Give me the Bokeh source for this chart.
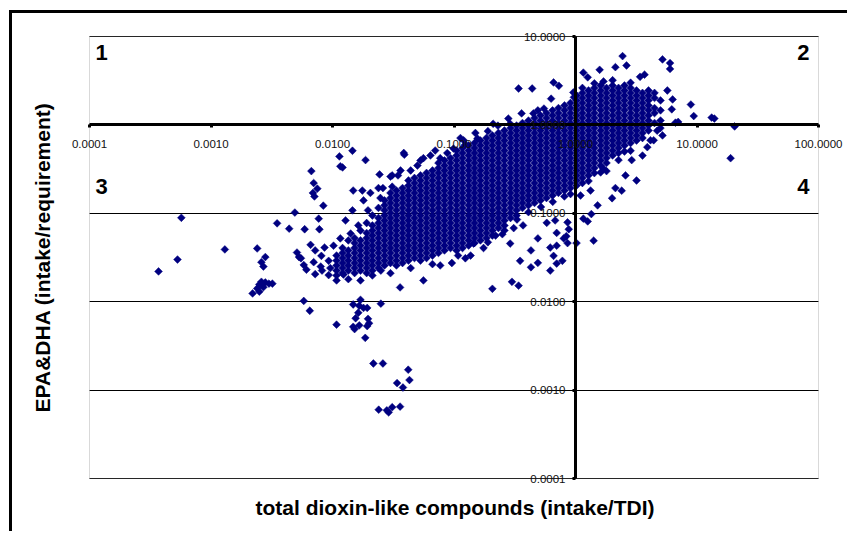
import numpy as np
from bokeh.plotting import figure
from bokeh.core.properties import value
from bokeh.models import (FixedTicker, LogAxis, Label, LabelSet, BoxAnnotation,
                          ColumnDataSource, Range1d)
from bokeh.embed import file_html
from bokeh.resources import INLINE

# ---------------- axis ticks / labels ----------------
x_ticks = [0.0001, 0.001, 0.01, 0.1, 1, 10, 100]
x_tick_labels = ["0.0001", "0.0010", "0.0100", "0.1000", "1.0000", "10.0000", "100.0000"]
y_ticks = [0.0001, 0.001, 0.01, 0.1, 1, 10]
y_tick_labels = ["0.0001", "0.0010", "0.0100", "0.1000", "1.0000", "10.0000"]
axes_cross = 1.0
x_title = "total dioxin-like compounds (intake/TDI)"
y_title = "EPA&DHA (intake/requirement)"
quadrant_labels = ["1", "2", "3", "4"]

# ---------------- data: dense cloud, read column by column ----------------
core_dioxin = [0.0108, 0.0121, 0.0135, 0.0152, 0.0170, 0.0191, 0.0213, 0.0239, 0.0268, 0.0300,
               0.0336, 0.0377, 0.0422, 0.0473, 0.0530, 0.0594, 0.0665, 0.0745, 0.0835, 0.0936,
               0.105, 0.1175, 0.132, 0.1475, 0.165, 0.185, 0.207, 0.232, 0.260, 0.292,
               0.327, 0.366, 0.410, 0.460, 0.515, 0.577, 0.647, 0.724, 0.812, 0.909,
               1.02, 1.14, 1.28, 1.43, 1.61, 1.80, 2.02, 2.26, 2.53, 2.84,
               3.18, 3.56, 3.99, 4.47, 5.01]
core_epa = [
    [0.0333, 0.0292, 0.0257, 0.0225, 0.0198],
    [0.0405, 0.0356, 0.0312, 0.0274, 0.0241, 0.0211],
    [0.0493, 0.0380, 0.0333, 0.0292, 0.0257, 0.0225],
    [0.0525, 0.0461, 0.0405, 0.0356, 0.0312, 0.0274, 0.0241, 0.0211],
    [0.0639, 0.0493, 0.0432, 0.0380, 0.0333, 0.0292, 0.0257, 0.0225],
    [0.0777, 0.0598, 0.0525, 0.0461, 0.0405, 0.0356, 0.0312, 0.0274, 0.0241, 0.0211],
    [0.0944, 0.0728, 0.0639, 0.0561, 0.0493, 0.0432, 0.0380, 0.0333, 0.0292, 0.0257, 0.0225],
    [0.115, 0.0885, 0.0777, 0.0682, 0.0598, 0.0525, 0.0461, 0.0405, 0.0356, 0.0312, 0.0274, 0.0241],
    [0.140, 0.123, 0.108, 0.0944, 0.0829, 0.0728, 0.0639, 0.0561, 0.0493, 0.0432, 0.0380, 0.0333, 0.0292, 0.0257],
    [0.170, 0.149, 0.131, 0.115, 0.101, 0.0885, 0.0777, 0.0682, 0.0598, 0.0525, 0.0461, 0.0405, 0.0356, 0.0312, 0.0274],
    [0.181, 0.159, 0.140, 0.123, 0.108, 0.0944, 0.0829, 0.0728, 0.0639, 0.0561, 0.0493, 0.0432, 0.0380, 0.0333, 0.0292, 0.0257],
    [0.193, 0.170, 0.149, 0.131, 0.115, 0.101, 0.0885, 0.0777, 0.0682, 0.0598, 0.0525, 0.0461, 0.0405, 0.0356, 0.0312, 0.0274],
    [0.235, 0.206, 0.181, 0.159, 0.140, 0.123, 0.108, 0.0944, 0.0829, 0.0728, 0.0639, 0.0561, 0.0493, 0.0432, 0.0380, 0.0333, 0.0292],
    [0.251, 0.220, 0.193, 0.170, 0.149, 0.131, 0.115, 0.101, 0.0885, 0.0777, 0.0682, 0.0598, 0.0525, 0.0461, 0.0405, 0.0356, 0.0312],
    [0.268, 0.235, 0.206, 0.181, 0.159, 0.140, 0.123, 0.108, 0.0944, 0.0829, 0.0728, 0.0639, 0.0561, 0.0493, 0.0432, 0.0380, 0.0333, 0.0292],
    [0.286, 0.251, 0.220, 0.193, 0.170, 0.149, 0.131, 0.115, 0.101, 0.0885, 0.0777, 0.0682, 0.0598, 0.0525, 0.0461, 0.0405, 0.0356, 0.0312],
    [0.305, 0.268, 0.235, 0.206, 0.181, 0.159, 0.140, 0.123, 0.108, 0.0944, 0.0829, 0.0728, 0.0639, 0.0561, 0.0493, 0.0432, 0.0380, 0.0333],
    [0.371, 0.325, 0.286, 0.251, 0.220, 0.193, 0.170, 0.149, 0.131, 0.115, 0.101, 0.0885, 0.0777, 0.0682, 0.0598, 0.0525, 0.0461, 0.0405, 0.0356],
    [0.396, 0.347, 0.305, 0.268, 0.235, 0.206, 0.181, 0.159, 0.140, 0.123, 0.108, 0.0944, 0.0829, 0.0728, 0.0639, 0.0561, 0.0493, 0.0432, 0.0380],
    [0.422, 0.371, 0.325, 0.286, 0.251, 0.220, 0.193, 0.170, 0.149, 0.131, 0.115, 0.101, 0.0885, 0.0777, 0.0682, 0.0598, 0.0525, 0.0461, 0.0405],
    [0.513, 0.451, 0.396, 0.347, 0.305, 0.268, 0.235, 0.206, 0.181, 0.159, 0.140, 0.123, 0.108, 0.0944, 0.0829, 0.0728, 0.0639, 0.0561, 0.0493, 0.0432, 0.0380],
    [0.548, 0.481, 0.422, 0.371, 0.325, 0.286, 0.251, 0.220, 0.193, 0.170, 0.149, 0.131, 0.115, 0.101, 0.0885, 0.0777, 0.0682, 0.0598, 0.0525, 0.0461, 0.0405],
    [0.585, 0.513, 0.451, 0.396, 0.347, 0.305, 0.268, 0.235, 0.206, 0.181, 0.159, 0.140, 0.123, 0.108, 0.0944, 0.0829, 0.0728, 0.0639, 0.0561, 0.0493, 0.0432],
    [0.624, 0.548, 0.481, 0.422, 0.371, 0.325, 0.286, 0.251, 0.220, 0.193, 0.170, 0.149, 0.131, 0.115, 0.101, 0.0885, 0.0777, 0.0682, 0.0598, 0.0525, 0.0461],
    [0.666, 0.585, 0.513, 0.451, 0.396, 0.347, 0.305, 0.268, 0.235, 0.206, 0.181, 0.159, 0.140, 0.123, 0.108, 0.0944, 0.0829, 0.0728, 0.0639, 0.0561, 0.0493],
    [0.711, 0.624, 0.548, 0.481, 0.422, 0.371, 0.325, 0.286, 0.251, 0.220, 0.193, 0.170, 0.149, 0.131, 0.115, 0.101, 0.0885, 0.0777, 0.0682, 0.0598, 0.0525],
    [0.759, 0.666, 0.585, 0.513, 0.451, 0.396, 0.347, 0.305, 0.268, 0.235, 0.206, 0.181, 0.159, 0.140, 0.123, 0.108, 0.0944, 0.0829, 0.0728, 0.0639, 0.0561],
    [0.810, 0.711, 0.624, 0.548, 0.481, 0.422, 0.371, 0.325, 0.286, 0.251, 0.220, 0.193, 0.170, 0.149, 0.131, 0.115, 0.101, 0.0885, 0.0777, 0.0682],
    [0.864, 0.759, 0.666, 0.585, 0.513, 0.451, 0.396, 0.347, 0.305, 0.268, 0.235, 0.206, 0.181, 0.159, 0.140, 0.123, 0.108, 0.0944, 0.0829, 0.0728],
    [0.922, 0.810, 0.711, 0.624, 0.548, 0.481, 0.422, 0.371, 0.325, 0.286, 0.251, 0.220, 0.193, 0.170, 0.149, 0.131, 0.115, 0.101, 0.0885],
    [0.984, 0.864, 0.759, 0.666, 0.585, 0.513, 0.451, 0.396, 0.347, 0.305, 0.268, 0.235, 0.206, 0.181, 0.159, 0.140, 0.123, 0.108, 0.0944],
    [1.05, 0.922, 0.810, 0.711, 0.624, 0.548, 0.481, 0.422, 0.371, 0.325, 0.286, 0.251, 0.220, 0.193, 0.170, 0.149, 0.131, 0.115],
    [1.12, 0.984, 0.864, 0.759, 0.666, 0.585, 0.513, 0.451, 0.396, 0.347, 0.305, 0.268, 0.235, 0.206, 0.181, 0.159, 0.140, 0.123],
    [1.20, 1.05, 0.922, 0.810, 0.711, 0.624, 0.548, 0.481, 0.422, 0.371, 0.325, 0.286, 0.251, 0.220, 0.193, 0.170, 0.149, 0.131],
    [1.28, 1.12, 0.984, 0.864, 0.759, 0.666, 0.585, 0.513, 0.451, 0.396, 0.347, 0.305, 0.268, 0.235, 0.206, 0.181, 0.159, 0.140],
    [1.36, 1.20, 1.05, 0.922, 0.810, 0.711, 0.624, 0.548, 0.481, 0.422, 0.371, 0.325, 0.286, 0.251, 0.220, 0.193, 0.170, 0.149],
    [1.46, 1.28, 1.12, 0.984, 0.864, 0.759, 0.666, 0.585, 0.513, 0.451, 0.396, 0.347, 0.305, 0.268, 0.235, 0.206, 0.181, 0.159],
    [1.55, 1.36, 1.20, 1.05, 0.922, 0.810, 0.711, 0.624, 0.548, 0.481, 0.422, 0.371, 0.325, 0.286, 0.251, 0.220, 0.193, 0.170],
    [1.66, 1.46, 1.28, 1.12, 0.984, 0.864, 0.759, 0.666, 0.585, 0.513, 0.451, 0.396, 0.347, 0.305, 0.268, 0.235, 0.206, 0.181],
    [1.77, 1.55, 1.36, 1.20, 1.05, 0.922, 0.810, 0.711, 0.624, 0.548, 0.481, 0.422, 0.371, 0.325, 0.286, 0.251, 0.220, 0.193],
    [2.15, 1.89, 1.66, 1.46, 1.28, 1.12, 0.984, 0.864, 0.759, 0.666, 0.585, 0.513, 0.451, 0.396, 0.347, 0.305, 0.268, 0.235, 0.206],
    [2.30, 2.02, 1.77, 1.55, 1.36, 1.20, 1.05, 0.922, 0.810, 0.711, 0.624, 0.548, 0.481, 0.422, 0.371, 0.325, 0.286, 0.251, 0.220],
    [2.45, 2.15, 1.89, 1.66, 1.46, 1.28, 1.12, 0.984, 0.864, 0.759, 0.666, 0.585, 0.513, 0.451, 0.396, 0.347, 0.305, 0.268],
    [2.62, 2.30, 2.02, 1.77, 1.55, 1.36, 1.20, 1.05, 0.922, 0.810, 0.711, 0.624, 0.548, 0.481, 0.422, 0.371, 0.325],
    [2.79, 2.45, 2.15, 1.89, 1.66, 1.46, 1.28, 1.12, 0.984, 0.864, 0.759, 0.666, 0.585, 0.513, 0.451, 0.396, 0.347],
    [2.62, 2.30, 2.02, 1.77, 1.55, 1.36, 1.20, 1.05, 0.922, 0.810, 0.711, 0.624, 0.548, 0.481, 0.422, 0.371],
    [2.79, 2.45, 2.15, 1.89, 1.66, 1.46, 1.28, 1.12, 0.984, 0.864, 0.759, 0.666, 0.585, 0.513, 0.451],
    [2.62, 2.30, 2.02, 1.77, 1.55, 1.36, 1.20, 1.05, 0.922, 0.810, 0.711, 0.624, 0.548, 0.481],
    [2.79, 2.45, 2.15, 1.89, 1.66, 1.46, 1.28, 1.12, 0.984, 0.864, 0.759, 0.666, 0.585],
    [2.62, 2.30, 2.02, 1.77, 1.55, 1.36, 1.20, 1.05, 0.922, 0.810, 0.711, 0.624],
    [2.45, 2.15, 1.89, 1.66, 1.46, 1.28, 1.12, 0.984, 0.864, 0.759, 0.666],
    [2.30, 2.02, 1.77, 1.55, 1.36, 1.20, 1.05, 0.922, 0.810, 0.711],
    [2.15, 1.89, 1.66, 1.46, 1.28, 1.12, 0.984, 0.864],
    [2.02, 1.55, 1.36, 1.05],
    [1.89, 1.46, 1.12],
]

# ---------------- data: scattered individual points ----------------
scatter_dioxin = [
    0.00057, 0.00037, 0.00053, 0.0013, 0.0024, 0.0026, 0.0028, 0.0027, 0.0022, 0.0024,
    0.0025, 0.0026, 0.0027, 0.0028, 0.0030, 0.0032, 0.0025, 0.0035, 0.0044, 0.0049,
    0.0051, 0.0053, 0.0059, 0.0067, 0.0070, 0.0069, 0.0075, 0.0071, 0.0084, 0.0077,
    0.0078, 0.0066, 0.0055, 0.0058, 0.0061, 0.0070, 0.0072, 0.0086, 0.0081, 0.0072,
    0.0080, 0.0093, 0.0082, 0.0093, 0.0096, 0.0058, 0.0065, 0.0108, 0.0114, 0.0116,
    0.0146, 0.0187, 0.039, 0.0239, 0.0244, 0.031, 0.0346, 0.050, 0.056, 0.077,
    0.099, 0.12, 0.156, 0.21, 0.29, 0.36, 0.45, 0.55, 0.34, 0.44,
    0.66, 0.73, 0.63, 0.96, 0.97, 1.16, 1.26, 1.58, 1.70, 2.13,
    2.44, 2.63, 3.4, 3.7, 5.2, 6.0, 6.0, 6.3, 5.7, 6.2,
    6.65, 7.0, 8.9, 9.4, 13.2, 13.9, 20.4, 18.9, 5.2, 4.7,
    5.0, 4.4, 3.9, 3.56, 3.18, 2.58, 2.13, 2.4, 2.0, 1.70,
    2.9, 1.41, 1.02, 1.35, 1.16, 1.26, 0.88, 0.80, 0.78, 0.86,
    1.52, 1.33, 1.10, 0.145, 0.19, 0.22, 0.29, 0.35, 0.43, 0.49,
    0.62, 0.70, 0.86, 0.49, 0.62, 0.66, 0.70, 0.43, 0.84, 0.70,
    0.58, 0.68, 0.37, 0.31, 0.26, 0.25, 0.207, 0.30, 0.34, 0.017,
    0.025, 0.036, 0.056, 0.0123, 0.0148, 0.0170, 0.018, 0.0166, 0.0193, 0.0163,
    0.0155, 0.0196, 0.0166, 0.0148, 0.0152, 0.0193, 0.020, 0.0186, 0.025, 0.0217,
    0.026, 0.042, 0.043, 0.034, 0.038, 0.024, 0.029, 0.031, 0.036, 0.028,
    0.0121, 0.0386, 0.030, 0.0363, 0.031, 0.026, 0.0148, 0.0176, 0.0205, 0.018,
    0.0248, 0.0146, 0.0196, 0.0163, 0.0141, 0.0128, 0.0116, 0.0102, 0.0108, 0.0135,
    0.0213, 0.030, 0.044, 0.077, 0.096, 0.124, 0.0665, 0.108, 0.137, 0.175,
    0.064, 0.088, 0.124, 0.19, 0.49, 0.28, 0.23, 0.15, 0.113, 0.070,
    0.053, 0.044, 1.8, 2.26, 4.14, 2.84, 1.61, 1.14, 1.43, 2.02,
    2.84, 3.99, 4.47, 1.28, 1.43, 2.53, 0.52, 0.65, 0.41, 0.33,
    0.81, 0.91,
]
scatter_epa = [
    0.089, 0.022, 0.030, 0.039, 0.040, 0.028, 0.032, 0.025, 0.0124, 0.0141,
    0.0157, 0.0168, 0.0146, 0.0165, 0.0160, 0.0160, 0.0130, 0.077, 0.067, 0.102,
    0.036, 0.032, 0.066, 0.30, 0.22, 0.17, 0.19, 0.155, 0.122, 0.087,
    0.066, 0.044, 0.031, 0.026, 0.023, 0.028, 0.038, 0.041, 0.033, 0.0205,
    0.025, 0.029, 0.0225, 0.020, 0.024, 0.0102, 0.0079, 0.0055, 0.44, 0.34,
    0.51, 0.40, 0.46, 0.193, 0.275, 0.268, 0.268, 0.347, 0.42, 0.42,
    0.54, 0.67, 0.70, 1.03, 1.03, 1.35, 1.35, 1.53, 2.58, 2.58,
    3.02, 2.77, 1.98, 2.33, 2.05, 3.9, 3.45, 4.2, 3.1, 4.5,
    6.0, 4.7, 3.5, 3.7, 5.5, 5.0, 4.3, 1.94, 2.45, 1.5,
    1.06, 1.08, 1.70, 1.26, 1.21, 1.18, 0.96, 0.42, 0.76, 0.86,
    0.92, 0.67, 0.56, 0.45, 0.235, 0.268, 0.193, 0.18, 0.148, 0.32,
    0.40, 0.049, 0.046, 0.098, 0.087, 0.081, 0.066, 0.052, 0.029, 0.079,
    0.123, 0.181, 0.159, 0.0455, 0.047, 0.056, 0.0455, 0.029, 0.0245, 0.0275,
    0.0225, 0.027, 0.046, 0.052, 0.041, 0.033, 0.043, 0.038, 0.055, 0.060,
    0.078, 0.083, 0.073, 0.068, 0.064, 0.058, 0.0140, 0.0168, 0.0152, 0.0174,
    0.0225, 0.0145, 0.0174, 0.0203, 0.0093, 0.0105, 0.0085, 0.0090, 0.0085, 0.0075,
    0.0065, 0.0064, 0.0054, 0.0052, 0.0049, 0.0053, 0.0057, 0.0039, 0.0095, 0.0020,
    0.0020, 0.0017, 0.0013, 0.0012, 0.00107, 0.00060, 0.00056, 0.00064, 0.00065, 0.00059,
    0.33, 0.481, 0.26, 0.305, 0.20, 0.193, 0.181, 0.181, 0.170, 0.140,
    0.149, 0.108, 0.108, 0.073, 0.059, 0.083, 0.052, 0.043, 0.0174, 0.018,
    0.0198, 0.021, 0.024, 0.0257, 0.0274, 0.031, 0.0266, 0.0333, 0.0333, 0.0405,
    0.451, 0.48, 0.60, 0.85, 1.46, 1.18, 0.98, 0.81, 0.71, 0.513,
    0.396, 0.305, 0.30, 0.40, 0.67, 0.51, 0.29, 2.62, 2.95, 3.2,
    3.0, 2.45, 2.3, 0.232, 0.285, 0.50, 0.118, 0.135, 0.103, 0.085,
    0.155, 0.165,
]

# ---------------- build tables ----------------
xs, ys = [], []
for xv, col in zip(core_dioxin, core_epa):
    for yv in col:
        xs.append(xv)
        ys.append(yv)
xs += scatter_dioxin
ys += scatter_epa
src = ColumnDataSource(data=dict(x=xs, y=ys))

xlab_src = ColumnDataSource(data=dict(x=x_ticks, y=[axes_cross] * len(x_ticks), text=x_tick_labels))
ylab_src = ColumnDataSource(data=dict(x=[axes_cross] * len(y_ticks), y=y_ticks, text=y_tick_labels))

FONT = "Liberation Sans"

# layout (pixels): plot area 729 x 442, frame padded so end tick labels are not clipped
PX_DEC_X, PX_DEC_Y = 121.5, 88.4
PAD_L, PAD_R, PAD_T, PAD_B = 24, 26, 9, 9
x_rng = Range1d(x_ticks[0] / 10 ** (PAD_L / PX_DEC_X), x_ticks[-1] * 10 ** (PAD_R / PX_DEC_X))
y_rng = Range1d(y_ticks[0] / 10 ** (PAD_B / PX_DEC_Y), y_ticks[-1] * 10 ** (PAD_T / PX_DEC_Y))

p = figure(width=838, height=521, x_axis_type="log", y_axis_type="log",
           x_range=x_rng, y_range=y_rng,
           output_backend="svg", toolbar_location=None,
           min_border_left=53, min_border_right=6, min_border_top=14, min_border_bottom=47,
           background_fill_color="white", border_fill_color="white",
           styles={"margin-left": "12px", "margin-top": "13px", "vertical-align": "top",
                   "box-shadow": "-3px -3px 0px 0px black"})
p.outline_line_color = None

# plot-area border
p.add_layout(BoxAnnotation(left=x_ticks[0], right=x_ticks[-1], bottom=y_ticks[0], top=y_ticks[-1],
                           fill_color=None, line_color="#808080", line_width=1, level="underlay"))

# main axes crossing at (1, 1): line + tick marks
xa = p.below[0]
ya = p.left[0]
for ax, ticks in ((xa, x_ticks), (ya, y_ticks)):
    ax.fixed_location = axes_cross
    ax.bounds = (ticks[0], ticks[-1])
    ax.ticker = FixedTicker(ticks=ticks, minor_ticks=[])
    ax.axis_line_color = "black"
    ax.axis_line_width = 3
    ax.major_tick_line_color = "black"
    ax.major_tick_line_width = 3
    ax.major_tick_in = 0
    ax.major_tick_out = 3
    ax.minor_tick_line_color = None
    ax.major_label_text_color = None

# tick labels
common = dict(text_font=value(FONT), text_font_size=value("11.5px"), text_color=value("#111111"))
p.add_layout(LabelSet(x="x", y="y", text="text", source=xlab_src, text_align="center",
                      text_baseline="top", y_offset=-15, **common))
p.add_layout(LabelSet(x="x", y="y", text="text", source=ylab_src, text_align="right",
                      text_baseline="middle", x_offset=-10, **common))

# grid: horizontal lines at each y decade, spanning the plot area only
p.xgrid.grid_line_color = None
yg = p.ygrid[0]
yg.ticker = FixedTicker(ticks=y_ticks, minor_ticks=[])
try:
    yg.cross_bounds = (x_ticks[0], x_ticks[-1])
    yg.grid_line_color = "black"
    yg.grid_line_width = 1
except AttributeError:
    yg.grid_line_color = None
    p.segment(x0=[x_ticks[0]] * len(y_ticks), x1=[x_ticks[-1]] * len(y_ticks),
              y0=y_ticks, y1=y_ticks, line_color="black", line_width=1, level="underlay")

# axis titles on plain outer axes
def title_axis(text, standoff, bounds):
    ax = LogAxis(axis_label=text, ticker=FixedTicker(ticks=[], minor_ticks=[]), bounds=bounds,
                 axis_line_color=None, major_tick_line_color=None, minor_tick_line_color=None,
                 major_label_text_color=None, axis_label_standoff=standoff)
    ax.axis_label_text_font = FONT
    ax.axis_label_text_font_style = "bold"
    ax.axis_label_text_font_size = "21px"
    ax.axis_label_text_color = "black"
    return ax

p.add_layout(title_axis(x_title, 8, (x_ticks[0], x_ticks[-1])), "below")
p.add_layout(title_axis(y_title, 12, (y_ticks[0], y_ticks[-1])), "left")

# points
p.scatter(x="x", y="y", source=src, marker="square", angle=np.pi / 4, size=5.5,
          fill_color="#000080", line_color="#000080", line_width=0.5)

# quadrant numbers
q_pos = [(x_ticks[0], y_ticks[-1], "left", 6, -8),
         (x_ticks[-1], y_ticks[-1], "right", -9, -8),
         (x_ticks[0], axes_cross, "left", 6, -54),
         (x_ticks[-1], axes_cross, "right", -9, -54)]
for txt, (qx, qy, al, dx, dy) in zip(quadrant_labels, q_pos):
    p.add_layout(Label(x=qx, y=qy, text=txt, text_align=al, text_baseline="top",
                       x_offset=dx, y_offset=dy, text_font=FONT, text_font_style="bold",
                       text_font_size="22px", text_color="black"))

open("out.html", "w").write(file_html(p, INLINE))
